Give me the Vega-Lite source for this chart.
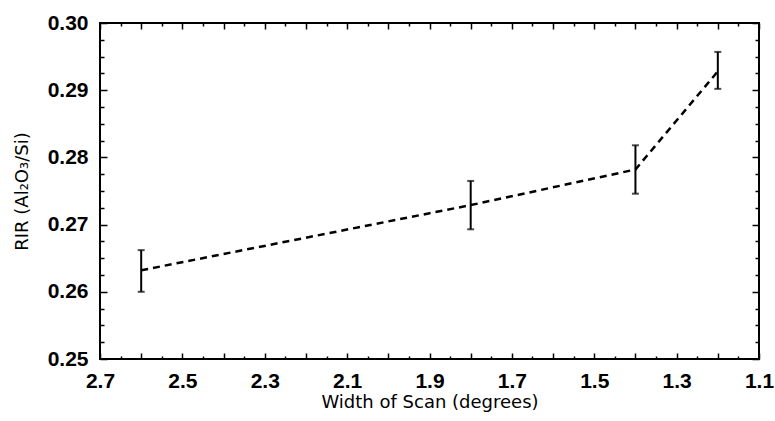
{
  "$schema": "https://vega.github.io/schema/vega-lite/v6.json",
  "width": 659,
  "height": 336,
  "autosize": "none",
  "padding": {"left": 100, "top": 23, "right": 16, "bottom": 62},
  "background": "white",
  "config": {
    "view": {"stroke": "black", "strokeWidth": 2},
    "font": "Liberation Sans",
    "axis": {
      "grid": false,
      "domain": false,
      "ticks": true,
      "labelFlush": false,
      "tickColor": "black",
      "tickWidth": 1.5,
      "tickOpacity": 1,
      "labelColor": "black",
      "labelFontSize": 21,
      "labelFontWeight": "bold",
      "labelFont": "Liberation Sans",
      "titleColor": "black",
      "titleFontSize": 18,
      "titleFontWeight": "normal",
      "titleFont": "DejaVu Sans"
    }
  },
  "data": {
    "values": [
      {"width": 2.6, "rir": 0.2632, "lo": 0.2600, "hi": 0.2662},
      {"width": 1.8, "rir": 0.2729, "lo": 0.2693, "hi": 0.2765},
      {"width": 1.4, "rir": 0.2782, "lo": 0.2746, "hi": 0.2818},
      {"width": 1.2, "rir": 0.2928, "lo": 0.2902, "hi": 0.2957}
    ]
  },
  "layer": [
    {
      "encoding": {
        "x": {
          "field": "width", "type": "quantitative",
          "scale": {"domain": [2.7, 1.1], "nice": false, "zero": false},
          "axis": {
            "orient": "bottom",
            "title": "Width of Scan (degrees)",
            "ticks": true,
            "values": [2.7, 2.6, 2.5, 2.4, 2.3, 2.2, 2.1, 2.0, 1.9, 1.8, 1.7, 1.6, 1.5, 1.4, 1.3, 1.2, 1.1],
            "labelExpr": "abs((2.7-datum.value)/0.2 - round((2.7-datum.value)/0.2)) < 0.01 ? format(datum.value, '.1f') : ''",
            "tickSize": -6,
            "labelPadding": 17,
            "titlePadding": 2
          }
        },
        "y": {
          "field": "rir", "type": "quantitative",
          "scale": {"domain": [0.25, 0.30], "nice": false, "zero": false},
          "axis": {
            "orient": "left",
            "title": "RIR (Al₂O₃/Si)",
            "ticks": true,
            "values": [0.25, 0.26, 0.27, 0.28, 0.29, 0.30],
            "format": ".2f",
            "tickSize": -7,
            "labelPadding": 19,
            "titlePadding": 16
          }
        }
      },
      "layer": [
        {"mark": {"type": "line", "color": "black", "strokeWidth": 2.5, "strokeDash": [7, 5]}},
        {"mark": {"type": "rule", "color": "black", "strokeWidth": 2}, "encoding": {"y": {"field": "lo", "type": "quantitative"}, "y2": {"field": "hi"}}},
        {"mark": {"type": "tick", "color": "black", "orient": "horizontal", "size": 7, "thickness": 2}, "encoding": {"y": {"field": "lo", "type": "quantitative"}}},
        {"mark": {"type": "tick", "color": "black", "orient": "horizontal", "size": 7, "thickness": 2}, "encoding": {"y": {"field": "hi", "type": "quantitative"}}}
      ]
    },
    {
      "mark": {"type": "point", "opacity": 0},
      "encoding": {
        "x": {
          "field": "width", "type": "quantitative",
          "scale": {"domain": [2.7, 1.1], "nice": false, "zero": false},
          "axis": {
            "orient": "top", "title": null, "labels": false, "ticks": true,
            "values": [2.7, 2.6, 2.5, 2.4, 2.3, 2.2, 2.1, 2.0, 1.9, 1.8, 1.7, 1.6, 1.5, 1.4, 1.3, 1.2, 1.1],
            "tickSize": -6
          }
        },
        "y": {
          "field": "rir", "type": "quantitative",
          "scale": {"domain": [0.25, 0.30], "nice": false, "zero": false},
          "axis": {
            "orient": "right", "title": null, "labels": false, "ticks": true,
            "values": [0.25, 0.26, 0.27, 0.28, 0.29, 0.30],
            "tickSize": -7
          }
        }
      }
    },
    {
      "mark": {"type": "point", "opacity": 0},
      "encoding": {
        "x": {
          "field": "width", "type": "quantitative",
          "scale": {"domain": [2.7, 1.1], "nice": false, "zero": false},
          "axis": {
            "orient": "bottom", "title": null, "labels": false, "ticks": true,
            "values": [2.65, 2.55, 2.45, 2.35, 2.25, 2.15, 2.05, 1.95, 1.85, 1.75, 1.65, 1.55, 1.45, 1.35, 1.25, 1.15],
            "tickSize": -3
          }
        },
        "y": {
          "field": "rir", "type": "quantitative",
          "scale": {"domain": [0.25, 0.30], "nice": false, "zero": false},
          "axis": {
            "orient": "left", "title": null, "labels": false, "ticks": true,
            "values": [0.2525, 0.255, 0.2575, 0.2625, 0.265, 0.2675, 0.2725, 0.275, 0.2775, 0.2825, 0.285, 0.2875, 0.2925, 0.295, 0.2975],
            "tickSize": -4
          }
        }
      }
    },
    {
      "mark": {"type": "point", "opacity": 0},
      "encoding": {
        "x": {
          "field": "width", "type": "quantitative",
          "scale": {"domain": [2.7, 1.1], "nice": false, "zero": false},
          "axis": {
            "orient": "top", "title": null, "labels": false, "ticks": true,
            "values": [2.65, 2.55, 2.45, 2.35, 2.25, 2.15, 2.05, 1.95, 1.85, 1.75, 1.65, 1.55, 1.45, 1.35, 1.25, 1.15],
            "tickSize": -3
          }
        },
        "y": {
          "field": "rir", "type": "quantitative",
          "scale": {"domain": [0.25, 0.30], "nice": false, "zero": false},
          "axis": {
            "orient": "right", "title": null, "labels": false, "ticks": true,
            "values": [0.2525, 0.255, 0.2575, 0.2625, 0.265, 0.2675, 0.2725, 0.275, 0.2775, 0.2825, 0.285, 0.2875, 0.2925, 0.295, 0.2975],
            "tickSize": -4
          }
        }
      }
    }
  ],
  "resolve": {"axis": {"x": "independent", "y": "independent"}}
}
